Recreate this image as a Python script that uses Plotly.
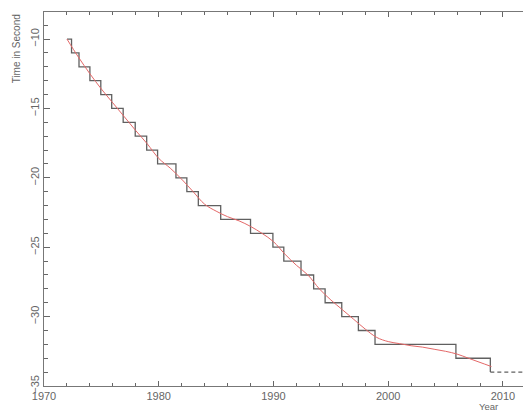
import plotly.graph_objects as go

# Step series: years where each level starts, and the level (seconds)
step_years = [1972.0, 1972.4, 1973.05, 1974.0, 1974.95, 1975.9, 1976.9, 1977.95,
              1978.95, 1979.9, 1981.5, 1982.45, 1983.45, 1985.4, 1988.0, 1989.95,
              1990.9, 1992.4, 1993.5, 1994.5, 1995.95, 1997.4, 1998.85, 2005.9, 2008.9]
step_levels = [-10, -11, -12, -13, -14, -15, -16, -17, -18, -19, -20, -21, -22,
               -23, -24, -25, -26, -27, -28, -29, -30, -31, -32, -33, -34]

# Dashed extension of the last level
ext_years = [2008.9, 2011.9]
ext_levels = [-34, -34]

# Smooth (red) trend curve
trend_years = [1972, 1973, 1974, 1975, 1976, 1977, 1978, 1979, 1980, 1981, 1982,
               1983, 1984, 1985, 1986, 1987, 1988, 1989, 1990, 1991, 1992, 1993,
               1994, 1995, 1996, 1997, 1998, 1999, 2000, 2001, 2002, 2003, 2004,
               2005, 2006, 2007, 2008, 2009]
trend_values = [-10.0, -11.3, -12.5, -13.6, -14.6, -15.6, -16.6, -17.55, -18.6,
                -19.3, -20.1, -21.0, -21.9, -22.4, -22.8, -23.1, -23.5, -24.0,
                -24.6, -25.5, -26.3, -27.0, -28.0, -28.8, -29.5, -30.2, -30.9,
                -31.5, -31.8, -31.95, -32.1, -32.2, -32.35, -32.5, -32.7, -33.0,
                -33.3, -33.6]

x_ticks = [1970, 1980, 1990, 2000, 2010]
y_ticks = [-10, -15, -20, -25, -30, -35]

fig = go.Figure()
fig.add_trace(go.Scatter(x=step_years, y=step_levels, mode="lines",
                         line=dict(shape="hv", color="#606060", width=1.3),
                         showlegend=False, hoverinfo="skip"))
fig.add_trace(go.Scatter(x=ext_years, y=ext_levels, mode="lines",
                         line=dict(color="#606060", width=1.3, dash="4px,3px"),
                         showlegend=False, hoverinfo="skip"))
fig.add_trace(go.Scatter(x=trend_years, y=trend_values, mode="lines",
                         line=dict(shape="spline", color="#e46868", width=1),
                         showlegend=False, hoverinfo="skip"))

axis_common = dict(showgrid=False, zeroline=False, showline=True, linecolor="#777777",
                   linewidth=1, mirror="allticks", ticks="inside", tickcolor="#666666",
                   tickfont=dict(family="Liberation Sans", size=11, color="#666666"))

fig.update_xaxes(range=[1970, 2012.27], tickvals=x_ticks, ticklen=5, tickwidth=1,
                 minor=dict(dtick=2, tick0=1970, ticklen=3, ticks="inside", tickcolor="#666666"),
                 **axis_common)
fig.update_yaxes(range=[-35, -8.05], tickvals=y_ticks, ticklen=6, tickwidth=1, tickangle=-90,
                 minor=dict(dtick=1, tick0=-35, ticklen=3.5, ticks="inside", tickcolor="#666666"),
                 **axis_common)

fig.add_annotation(text="Time in Second", xref="paper", yref="paper",
                   x=-0.056, y=1.0, xanchor="center", yanchor="top", textangle=-90,
                   showarrow=False, font=dict(family="Liberation Sans", size=10, color="#666666"))
fig.add_annotation(text="Year", xref="paper", yref="paper",
                   x=0.9175, y=-0.056, xanchor="center", yanchor="middle",
                   showarrow=False, font=dict(family="Liberation Sans", size=9.5, color="#666666"))

# The page body adds an 8px offset; margins compensate so the plot sits where the reference has it
fig.update_layout(width=531, height=414, margin=dict(l=36, r=10, t=4, b=35.5),
                  plot_bgcolor="white", paper_bgcolor="white")

fig.write_html("out.html")
